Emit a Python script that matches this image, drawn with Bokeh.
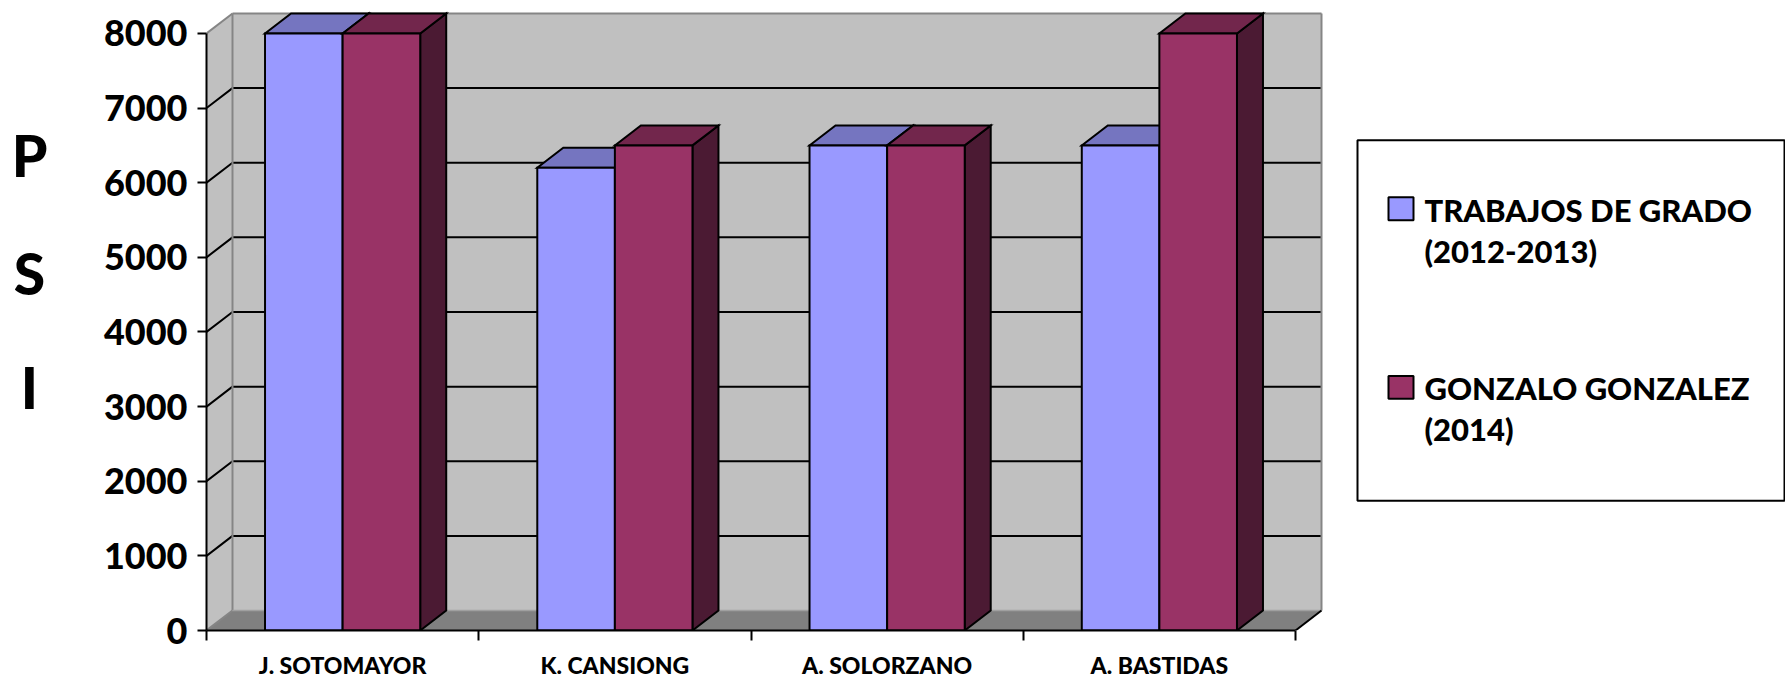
from bokeh.plotting import figure
from bokeh.models import Range1d, FixedTicker
from bokeh.layouts import row
from bokeh.embed import file_html
from bokeh.resources import INLINE
from bokeh.core.properties import value

# ---- data -------------------------------------------------------------
CATEGORIES = ["J. SOTOMAYOR", "K. CANSIONG", "A. SOLORZANO", "A. BASTIDAS"]
SERIES_NAMES = ["TRABAJOS DE GRADO\n(2012-2013)", "GONZALO GONZALEZ\n(2014)"]
TRABAJOS = [8000, 6200, 6500, 6500]
GONZALEZ = [8000, 6500, 6500, 8000]
Y_TICKS = [0, 1000, 2000, 3000, 4000, 5000, 6000, 7000, 8000]
AXIS_TITLE = ["P", "S", "I"]

SERIES = [TRABAJOS, GONZALEZ]

# ---- styling / layout -------------------------------------------------
FONT = "Lato Heavy"
FRONT = ["#9999FF", "#993366"]
TOP = ["#7575C0", "#72264C"]
SIDE = ["#4D4D80", "#4B1A33"]
WALL = "#C0C0C0"
FLOOR = "#808080"
EDGE = "#858585"

W, H = 1785, 681
TITLE_W = 60                        # strip holding the vertical axis title
FRAME_LEFT = 206                    # page x of the value axis
BORDER_BOTTOM = 50
FRAME_BOTTOM = H - BORDER_BOTTOM
PX_PER_CAT = 272.25                 # pixels per category slot
Y_MAX = Y_TICKS[-1]
PX_PER_VAL = 598 / Y_MAX            # pixels per PSI unit
X_END = (W - FRAME_LEFT) / PX_PER_CAT
Y_END = FRAME_BOTTOM / PX_PER_VAL

DX = 26 / PX_PER_CAT                # 3-D depth, horizontal
DY = 20 / PX_PER_VAL                # 3-D depth, vertical
BAR_W = 0.285
N = len(CATEGORIES)


def px_x(px):
    return (px - FRAME_LEFT) / PX_PER_CAT


def px_y(py):
    return (FRAME_BOTTOM - py) / PX_PER_VAL


# ---- vertical axis title strip (its frame lines up with the chart frame) --
t = figure(width=TITLE_W, height=H, output_backend="svg", toolbar_location=None,
           x_range=Range1d(0, TITLE_W), y_range=Range1d(FRAME_BOTTOM, 0),
           x_axis_location=None, y_axis_location=None, min_border=0,
           min_border_bottom=BORDER_BOTTOM,
           outline_line_color=None, background_fill_color="white",
           border_fill_color="white")
t.grid.visible = False
t.text(x=[29, 29, 29], y=[154.5, 272.5, 387.5], text=AXIS_TITLE,
       text_align="center", text_baseline="middle", text_font=value(FONT),
       text_font_style="bold", text_font_size="57px", text_color="black")

# ---- main chart ---------------------------------------------------------
p = figure(width=W - TITLE_W, height=H, output_backend="svg", toolbar_location=None,
           x_range=Range1d(0, X_END), y_range=Range1d(0, Y_END),
           min_border_left=FRAME_LEFT - TITLE_W, min_border_right=0, min_border_top=0,
           min_border_bottom=BORDER_BOTTOM, outline_line_color=None,
           background_fill_color="white", border_fill_color="white")
p.grid.visible = False

# walls and floor
p.quad(left=DX, right=N + DX, bottom=DY, top=Y_MAX + DY,
       fill_color=WALL, line_color=None)
p.patch([0, DX, DX, 0], [0, DY, Y_MAX + DY, Y_MAX], fill_color=WALL, line_color=None)
p.patch([0, DX, N + DX, N], [0, DY, DY, 0], fill_color=FLOOR, line_color=None)

grid_vals = Y_TICKS[1:-1]
p.multi_line([[0, DX, N + DX] for v in grid_vals],
             [[v, v + DY, v + DY] for v in grid_vals],
             line_color="black", line_width=2)

# wall outlines
p.multi_line([[DX, N + DX], [N + DX, N + DX], [DX, DX], [0, DX], [0, DX]],
             [[Y_MAX + DY] * 2, [DY, Y_MAX + DY], [DY, Y_MAX + DY], [Y_MAX, Y_MAX + DY], [0, DY]],
             line_color=EDGE, line_width=2)
p.line([DX, N + DX], [DY, DY], line_color="#A0A0A0", line_width=1.5)
p.line([N, N + DX], [0, DY], line_color="black", line_width=2)

# 3-D columns: side, top, then front face of each series
for s, vals in enumerate(SERIES):
    x0 = [i + 0.5 - BAR_W + s * BAR_W for i in range(N)]
    x1 = [x + BAR_W for x in x0]
    side_xs = [[b, b + DX, b + DX, b] for b in x1]
    side_ys = [[0, DY, v + DY, v] for v in vals]
    top_xs = [[a, b, b + DX, a + DX] for a, b in zip(x0, x1)]
    top_ys = [[v, v, v + DY, v + DY] for v in vals]
    p.patches(side_xs, side_ys, fill_color=SIDE[s], line_color="black",
              line_width=2, line_join="miter")
    p.patches(top_xs, top_ys, fill_color=TOP[s], line_color="black",
              line_width=2, line_join="miter")
    p.quad(left=x0, right=x1, bottom=0, top=vals, fill_color=FRONT[s],
           line_color="black", line_width=2, line_join="miter")

# axes
yax = p.yaxis[0]
yax.ticker = FixedTicker(ticks=Y_TICKS, minor_ticks=[])
yax.major_label_overrides = {v: str(v) for v in Y_TICKS}
yax.bounds = (0, Y_MAX)
yax.axis_line_color = "black"
yax.axis_line_width = 2
yax.major_tick_out = 9
yax.major_tick_in = 0
yax.major_tick_line_width = 2
yax.major_tick_line_color = "black"
yax.minor_tick_line_color = None
yax.major_label_text_font = FONT
yax.major_label_text_font_style = "bold"
yax.major_label_text_font_size = "36px"
yax.major_label_text_color = "black"
yax.major_label_standoff = 10

centers = [i + 0.5 for i in range(N)]
xax = p.xaxis[0]
xax.ticker = FixedTicker(ticks=centers, minor_ticks=list(range(N + 1)))
xax.major_label_overrides = {c: name for c, name in zip(centers, CATEGORIES)}
xax.bounds = (0, N)
xax.axis_line_color = "black"
xax.axis_line_width = 2
xax.major_tick_line_color = None
xax.major_tick_out = 10
xax.major_tick_in = 0
xax.minor_tick_out = 10
xax.minor_tick_in = 0
xax.minor_tick_line_color = "black"
xax.minor_tick_line_width = 2
xax.major_label_text_font = FONT
xax.major_label_text_font_style = "bold"
xax.major_label_text_font_size = "23px"
xax.major_label_text_color = "black"
xax.major_label_standoff = 10

# legend
p.quad(left=px_x(1357), right=px_x(1784), top=px_y(140), bottom=px_y(501),
       fill_color="white", line_color="black", line_width=2)
sw_tops = [197, 376]
p.quad(left=px_x(1388), right=px_x(1413),
       top=[px_y(v) for v in sw_tops], bottom=[px_y(v + 23) for v in sw_tops],
       fill_color=FRONT, line_color="black", line_width=2)
lx, ly, lt = [], [], []
for name, mid in zip(SERIES_NAMES, [209.5, 388]):
    for k, line in enumerate(name.split("\n")):
        lx.append(px_x(1424))
        ly.append(px_y(mid + 41 * k))
        lt.append(line)
p.text(x=lx, y=ly, text=lt, text_font=value(FONT), text_font_style="bold",
       text_font_size="31px", text_baseline="middle", text_align="left",
       text_color="black")

layout = row(t, p, spacing=0)
open("out.html", "w").write(file_html(layout, INLINE))
